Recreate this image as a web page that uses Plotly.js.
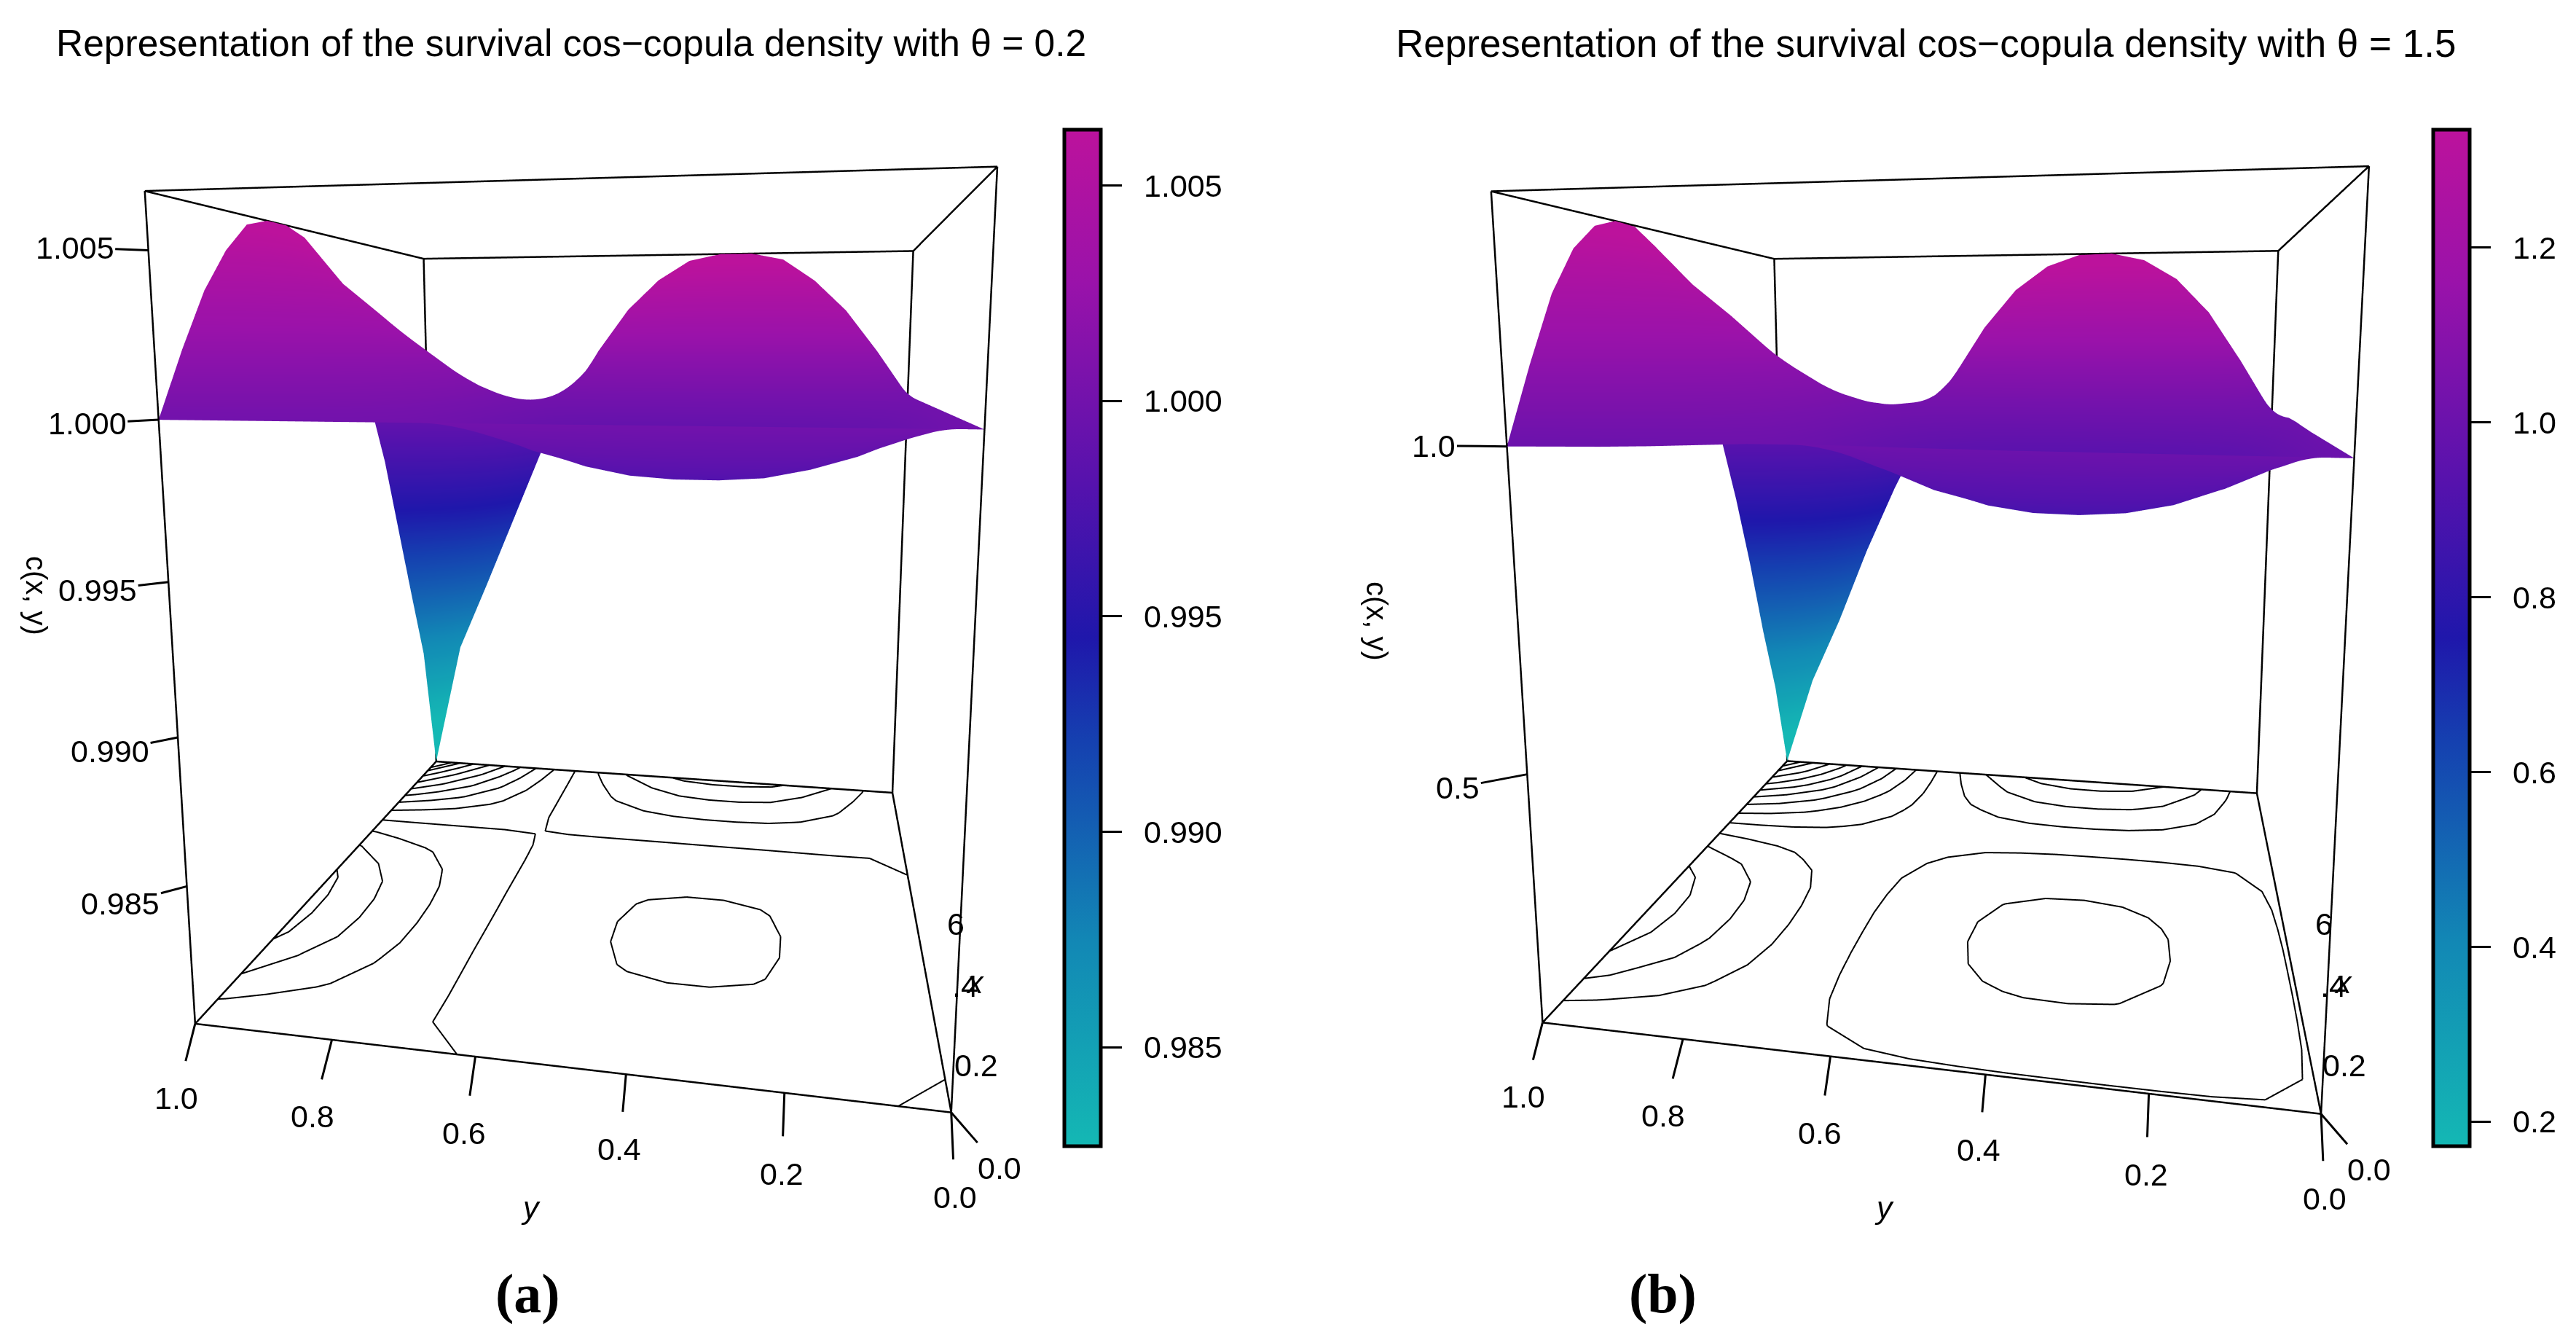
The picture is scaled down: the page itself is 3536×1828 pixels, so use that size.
<!DOCTYPE html>
<html><head><meta charset="utf-8">
<script src="https://cdn.plot.ly/plotly-3.0.1.min.js"></script>
<style>html,body{margin:0;padding:0;background:#fff;overflow:hidden;width:3536px;height:1828px}#g{position:absolute;left:0;top:-260px;width:3536px;height:2088px}</style>
</head><body><div id="g"></div>
<script>
const gridX=[0,0.0625,0.125,0.1875,0.25,0.3125,0.375,0.4375,0.5,0.5625,0.625,0.6875,0.75,0.8125,0.875,0.9375,1];
const gridY=[0,0.0625,0.125,0.1875,0.25,0.3125,0.375,0.4375,0.5,0.5625,0.625,0.6875,0.75,0.8125,0.875,0.9375,1];
const densityA=[
[1,1,1,1,1,1,1,1,1,1,1,1,1,1,1,1,1],
[1,0.99977,0.99956,0.99941,0.99931,0.99927,0.99927,0.99931,0.9994,0.99955,0.99977,1.00003,1.00035,1.00075,1.00116,1.00155,1.0021],
[1,0.99956,0.99917,0.99888,0.99868,0.99862,0.99862,0.99868,0.99886,0.99914,0.99956,1.00007,1.00066,1.00143,1.0022,1.00294,1.004],
[1,0.99941,0.99888,0.9985,0.99823,0.99814,0.99814,0.99823,0.99847,0.99885,0.99941,1.00009,1.00088,1.00192,1.00295,1.00395,1.0054],
[1,0.99931,0.99868,0.99823,0.99792,0.99782,0.99782,0.99792,0.9982,0.99865,0.99931,1.0001,1.00104,1.00225,1.00347,1.00465,1.0064],
[1,0.99927,0.99862,0.99814,0.99782,0.99771,0.99771,0.99782,0.99811,0.99858,0.99927,1.00011,1.00109,1.00237,1.00364,1.00488,1.0067],
[1,0.99927,0.99862,0.99814,0.99782,0.99771,0.99771,0.99782,0.99811,0.99858,0.99927,1.00011,1.00109,1.00237,1.00364,1.00488,1.0067],
[1,0.99931,0.99868,0.99823,0.99792,0.99782,0.99782,0.99792,0.9982,0.99865,0.99931,1.0001,1.00104,1.00225,1.00347,1.00465,1.0064],
[1,0.9994,0.99886,0.99847,0.9982,0.99811,0.99811,0.9982,0.99844,0.99883,0.9994,1.00009,1.0009,1.00195,1.00301,1.00403,1.0055],
[1,0.99955,0.99914,0.99885,0.99865,0.99858,0.99858,0.99865,0.99883,0.99912,0.99955,1.00007,1.00068,1.00147,1.00225,1.00302,1.0041],
[1,0.99977,0.99956,0.99941,0.99931,0.99927,0.99927,0.99931,0.9994,0.99955,0.99977,1.00003,1.00035,1.00075,1.00116,1.00155,1.0021],
[1,1.00003,1.00007,1.00009,1.0001,1.00011,1.00011,1.0001,1.00009,1.00007,1.00003,0.99999,0.99995,0.99989,0.99983,0.99977,0.9997],
[1,1.00035,1.00066,1.00088,1.00104,1.00109,1.00109,1.00104,1.0009,1.00068,1.00035,0.99995,0.99948,0.99887,0.99827,0.99768,0.997],
[1,1.00075,1.00143,1.00192,1.00225,1.00237,1.00237,1.00225,1.00195,1.00147,1.00075,0.99989,0.99887,0.99756,0.99624,0.99497,0.9935],
[1,1.00116,1.0022,1.00295,1.00347,1.00364,1.00364,1.00347,1.00301,1.00225,1.00116,0.99983,0.99827,0.99624,0.99422,0.99225,0.99],
[1,1.00155,1.00294,1.00395,1.00465,1.00488,1.00488,1.00465,1.00403,1.00302,1.00155,0.99977,0.99768,0.99497,0.99225,0.98962,0.9866],
[1,1.0021,1.004,1.0054,1.0064,1.0067,1.0067,1.0064,1.0055,1.0041,1.0021,0.9997,0.997,0.9935,0.99,0.9866,0.9802]
];
const densityB=[
[1.0027,1.0032,1.0036,1.0041,1.0045,1.005,1.0054,1.0063,1.0072,1.0086,1.009,1.009,1.0063,1.0036,1.0018,1.0009,1],
[1.0032,0.9891,0.9763,0.9675,0.9628,0.9613,0.9621,0.9662,0.9739,0.9861,1.0005,1.0171,1.0326,1.0507,1.0725,1.0927,1.118],
[1.0036,0.9763,0.9515,0.9344,0.9248,0.9216,0.9228,0.9298,0.9437,0.9658,0.993,1.0247,1.0566,1.0936,1.1368,1.1762,1.226],
[1.0041,0.9675,0.9344,0.9114,0.8985,0.8941,0.8955,0.9046,0.9229,0.9519,0.9881,1.0304,1.0737,1.1238,1.1819,1.2347,1.301],
[1.0045,0.9628,0.9248,0.8985,0.8838,0.8788,0.8803,0.8907,0.9115,0.9447,0.986,1.0343,1.0839,1.1413,1.2078,1.2682,1.344],
[1.005,0.9613,0.9216,0.8941,0.8788,0.8736,0.8752,0.8861,0.908,0.9429,0.9862,1.0367,1.0885,1.1482,1.2177,1.2808,1.36],
[1.0054,0.9621,0.9228,0.8955,0.8803,0.8752,0.8769,0.8879,0.9098,0.9447,0.9878,1.0381,1.089,1.148,1.2168,1.2793,1.358],
[1.0063,0.9662,0.9298,0.9046,0.8907,0.8861,0.8879,0.8986,0.9195,0.9526,0.9929,1.0397,1.0858,1.1394,1.2026,1.2604,1.333],
[1.0072,0.9739,0.9437,0.9229,0.9115,0.908,0.9098,0.9195,0.9376,0.9663,1.0004,1.0397,1.0765,1.1195,1.1712,1.2191,1.28],
[1.0086,0.9861,0.9658,0.9519,0.9447,0.9429,0.9447,0.9526,0.9663,0.988,1.0122,1.0394,1.0613,1.0875,1.1209,1.1529,1.194],
[1.009,1.0005,0.993,0.9881,0.986,0.9862,0.9878,0.9929,1.0004,1.0122,1.0232,1.0345,1.0382,1.0437,1.054,1.0655,1.081],
[1.009,1.0171,1.0247,1.0304,1.0343,1.0367,1.0381,1.0397,1.0397,1.0394,1.0345,1.027,1.0095,0.9909,0.974,0.9613,0.95],
[1.0063,1.0326,1.0566,1.0737,1.0839,1.0885,1.089,1.0858,1.0765,1.0613,1.0382,1.0095,0.9711,0.9281,0.8826,0.8437,0.81],
[1.0036,1.0507,1.0936,1.1238,1.1413,1.1482,1.148,1.1394,1.1195,1.0875,1.0437,0.9909,0.9281,0.8569,0.7784,0.7095,0.65],
[1.0018,1.0725,1.1368,1.1819,1.2078,1.2177,1.2168,1.2026,1.1712,1.1209,1.054,0.974,0.8826,0.7784,0.6619,0.5589,0.47],
[1.0009,1.0927,1.1762,1.2347,1.2682,1.2808,1.2793,1.2604,1.2191,1.1529,1.0655,0.9613,0.8437,0.7095,0.5589,0.4253,0.31],
[1,1.118,1.226,1.301,1.344,1.36,1.358,1.333,1.28,1.194,1.081,0.95,0.81,0.65,0.47,0.31,0.09]
];
const titleA='Representation of the survival cos\u2212copula density with \u03b8 = 0.2';
const titleB='Representation of the survival cos\u2212copula density with \u03b8 = 1.5';
const xyTicks=[0,0.2,0.4,0.6,0.8,1];
const xyTickText=['0.0','0.2','0.4','0.6','0.8','1.0'];
const zTicksA=[0.985,0.99,0.995,1,1.005];
const zTickTextA=['0.985','0.990','0.995','1.000','1.005'];
const zTicksB=[0.5,1];
const zTickTextB=['0.5','1.0'];
const barTicksA=[0.985,0.99,0.995,1,1.005];
const barTextA=['0.985','0.990','0.995','1.000','1.005'];
const barTicksB=[0.2,0.4,0.6,0.8,1,1.2];
const barTextB=['0.2','0.4','0.6','0.8','1.0','1.2'];
const levelsA=[0.984,0.986,0.988,0.99,0.992,0.994,0.996,0.998,1,1.002,1.004,1.006];
const levelsB=[0.2,0.3,0.4,0.5,0.6,0.7,0.8,0.9,1,1.1,1.2,1.3];
const boxZA=[0.9802,1.0067], boxZB=[0.09,1.36];
const colorRangeA=[0.9827,1.0063], colorRangeB=[0.172,1.335];
const colors=[[0,'#14b8b4'],[0.2,'#1288b5'],[0.4,'#1540b0'],[0.5,'#1f17ab'],[0.65,'#5512ad'],[0.85,'#9a12aa'],[1,'#bc129c']];
const FS=43, FONT='Liberation Sans, Arial, sans-serif';
const TOP=260, W=3536, HT=1828+TOP;   // the plot is taller than the page; its top strip is scrolled off
const py=y=>1-(y+TOP)/HT;
// layout helpers (pixel offsets of tick labels from their axis positions)
const yLabelOff=[[5,116],[-4,111],[-9,103],[-15,105],[-27,105],[-26,102]];
const zLabelOffA=[[-91,24],[-93,19],[-97,11],[-98,5],[-101,-4]];
const zLabelOffB=[[-95,18],[-100,-1]];
function surf(z,scene,range,ticks,text,barx){
 return {type:'surface',x:gridX,y:gridY,z:z,scene:scene,colorscale:colors,cmin:range[0],cmax:range[1],
  lighting:{ambient:1,diffuse:0,specular:0,roughness:1,fresnel:0},hoverinfo:'skip',
  colorbar:{x:barx/W,xanchor:'left',xpad:0,ypad:0,y:py(178),yanchor:'top',lenmode:'pixels',len:1395,thicknessmode:'pixels',thickness:50,
   outlinewidth:5,outlinecolor:'#000',borderwidth:0,ticks:'outside',ticklen:27,tickwidth:3,tickcolor:'#000',tickvals:ticks,ticktext:text.map(t=>'\u2002'+t),
   tickfont:{family:FONT,size:FS,color:'#000'}}};
}
function frame(range,scene){
 const a=0,b=1,l=range[0],h=range[1];
 const X=[],Y=[],Z=[];
 const seg=(p,q)=>{X.push(p[0],q[0],null);Y.push(p[1],q[1],null);Z.push(p[2],q[2],null);};
 [[a,a],[a,b],[b,a],[b,b]].forEach(c=>seg([c[0],c[1],l],[c[0],c[1],h]));
 [l,h].forEach(z=>{seg([a,a,z],[a,b,z]);seg([b,a,z],[b,b,z]);seg([a,a,z],[b,a,z]);seg([a,b,z],[b,b,z]);});
 return {type:'scatter3d',mode:'lines',x:X,y:Y,z:Z,scene:scene,line:{color:'#000',width:5},hoverinfo:'skip',showlegend:false};
}
function floorContours(z,levels,floor,scene){
 const X=[],Y=[],Z=[];
 const n=gridY.length,m=gridX.length;
 levels.forEach(L=>{
  for(let j=0;j<n-1;j++)for(let k=0;k<m-1;k++){
   const c=[[k,j],[k+1,j],[k+1,j+1],[k,j+1]];
   const pts=[];
   for(let e=0;e<4;e++){
    const p=c[e],q=c[(e+1)%4];
    const zp=z[p[1]][p[0]],zq=z[q[1]][q[0]];
    if((zp>=L)!==(zq>=L)){
     const t=(L-zp)/(zq-zp);
     pts.push([gridX[p[0]]+t*(gridX[q[0]]-gridX[p[0]]),gridY[p[1]]+t*(gridY[q[1]]-gridY[p[1]])]);
    }
   }
   for(let i=0;i+1<pts.length;i+=2){
    X.push(pts[i][0],pts[i+1][0],null);Y.push(pts[i][1],pts[i+1][1],null);Z.push(floor,floor,null);
   }
  }
 });
 return {type:'scatter3d',mode:'lines',x:X,y:Y,z:Z,scene:scene,line:{color:'#000',width:4},hoverinfo:'skip',showlegend:false};
}
function axis(range){
 const pad=(range[1]-range[0])*0.002;
 return {range:[range[0]-pad,range[1]+pad],autorange:false,showticklabels:false,ticks:'',showline:false,showgrid:false,zeroline:false,showbackground:false,showspikes:false,title:{text:''}};
}
function sceneAnn(zt,zl,zo,floor){
 const a=[];
 const base={showarrow:true,arrowhead:0,arrowwidth:3,arrowcolor:'#000',font:{family:FONT,size:FS,color:'#000'},standoff:0};
 zt.forEach((v,i)=>a.push(Object.assign({},base,{x:0,y:1,z:v,text:zl[i],ax:zo[i][0],ay:zo[i][1],startstandoff:0})));
 xyTicks.forEach((v,i)=>a.push(Object.assign({},base,{x:0,y:v,z:floor,text:xyTickText[i],ax:yLabelOff[i][0],ay:yLabelOff[i][1],startstandoff:26})));
 a.push(Object.assign({},base,{x:0,y:0,z:floor,text:xyTickText[0],ax:66,ay:76,startstandoff:12}));
 return a;
}
function paperText(x,y,text,size,extra){
 return Object.assign({xref:'paper',yref:'paper',x:x/W,y:py(y),xanchor:'center',yanchor:'middle',text:text,showarrow:false,font:{family:FONT,size:size,color:'#000'}},extra||{});
}
const cam=()=>({eye:{x:-1.766,y:-0.315,z:0.363},center:{x:0,y:0,z:0.103},up:{x:0,y:0,z:1},projection:{type:'perspective'}});
const CY=700, SH=1700, F=1487;
const dy=[py(CY+SH/2),py(CY-SH/2)];
const layout={width:W,height:HT,margin:{l:0,r:0,t:0,b:0},paper_bgcolor:'#fff',showlegend:false,
 scene:{domain:{x:[146/W,1546/W],y:dy},aspectmode:'manual',aspectratio:{x:1,y:1.02,z:1.13},camera:cam(),
  xaxis:axis([0,1]),yaxis:axis([0,1]),zaxis:axis(boxZA),annotations:sceneAnn(zTicksA,zTickTextA,zLabelOffA,boxZA[0])},
 scene2:{domain:{x:[2009/W,3409/W],y:dy},aspectmode:'manual',aspectratio:{x:1,y:1.05,z:1.13},camera:cam(),
  xaxis:axis([0,1]),yaxis:axis([0,1]),zaxis:axis(boxZB),annotations:sceneAnn(zTicksB,zTickTextB,zLabelOffB,boxZB[0])},
 annotations:[
  paperText(784,59,titleA,51.5),paperText(2643,59,titleB,53),
  paperText(724,1775,'<b>(a)</b>',76,{font:{family:'Liberation Serif, serif',size:76,color:'#000'}}),
  paperText(2282,1775,'<b>(b)</b>',76,{font:{family:'Liberation Serif, serif',size:76,color:'#000'}}),
  paperText(50,817,'c(x, y)',40,{textangle:90}),paperText(1890,852,'c(x, y)',40,{textangle:90}),
  paperText(728,1657,'<i>y</i>',43),paperText(2586,1657,'<i>y</i>',43),
  paperText(1340,1462,'0.2',FS),paperText(1325,1353,'.4',FS),paperText(1338,1348,'<i>x</i>',FS),paperText(1312,1268,'6',FS),
  paperText(3218,1462,'0.2',FS),paperText(3203,1353,'.4',FS),paperText(3216,1348,'<i>x</i>',FS),paperText(3190,1268,'6',FS)
 ]};
const data=[
 surf(densityA,'scene',colorRangeA,barTicksA,barTextA,1461),frame(boxZA,'scene'),floorContours(densityA,levelsA,boxZA[0],'scene'),
 surf(densityB,'scene2',colorRangeB,barTicksB,barTextB,3340),frame(boxZB,'scene2'),floorContours(densityB,levelsB,boxZB[0],'scene2')];
Plotly.newPlot('g',data,layout,{displayModeBar:false}).then(gd=>{
 ['scene','scene2'].forEach(s=>{const p=gd._fullLayout[s]._scene.glplot; p.fovy=2*Math.atan((SH/2)/F); p.redraw&&p.redraw();});
});
</script></body></html>
